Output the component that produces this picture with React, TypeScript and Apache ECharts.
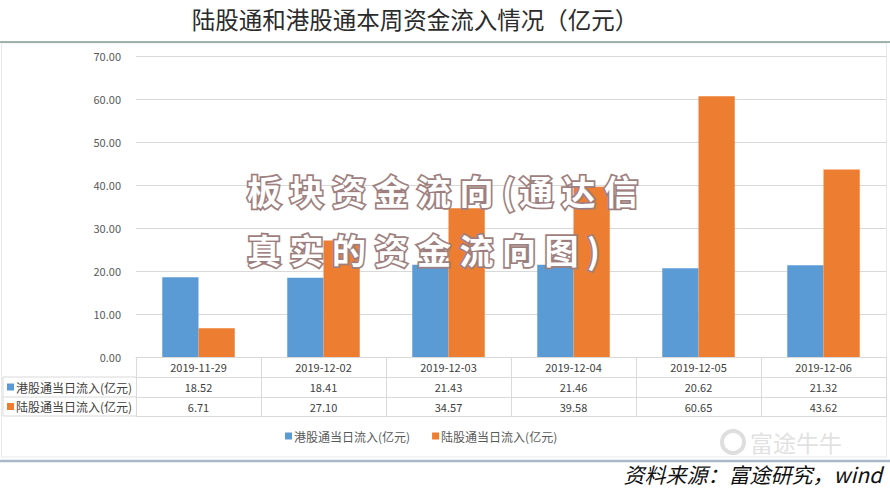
import React, { useEffect, useRef } from "react";
import * as echarts from "echarts";

const titleText = "陆股通和港股通本周资金流入情况（亿元）";
const dates = ["2019-11-29", "2019-12-02", "2019-12-03", "2019-12-04", "2019-12-05", "2019-12-06"];
const hkName = "港股通当日流入(亿元)";
const cnName = "陆股通当日流入(亿元)";
const hkValues = [18.52, 18.41, 21.43, 21.46, 20.62, 21.32];
const cnValues = [6.71, 27.1, 34.57, 39.58, 60.65, 43.62];
const watermarkLines = ["板块资金流向(通达信", "真实的资金流向图)"];
const sourceText = "资料来源：富途研究，wind";
const logoText = "富途牛牛";

const BLUE = "#5B9BD5";
const ORANGE = "#ED7D31";
const FONT = "Noto Sans CJK SC";
const LINE = "#d9d9d9";

function watermarkChars(line: string, x0: number, y: number) {
  const out: any[] = [];
  let x = x0;
  for (const ch of line) {
    const narrow = ch === "(" || ch === ")";
    out.push({
      type: "text",
      x: x,
      y: y,
      z: 100,
      style: {
        text: ch,
        font: `bold 34px "${FONT}"`,
        fill: "#ffffff",
        stroke: "#9e7f80",
        lineWidth: 3.5,
        textVerticalAlign: "middle",
        shadowColor: "rgba(120,90,90,0.45)",
        shadowBlur: 2,
        shadowOffsetX: 1,
        shadowOffsetY: 1,
      },
    });
    x += narrow ? 17 : 42.5;
  }
  return out;
}

export default function App() {
  const ref = useRef<HTMLDivElement>(null);
  useEffect(() => {
    document.body.style.margin = "0";
    const chart = echarts.init(ref.current!, null, { renderer: "svg" });
    const rowLabel = (name: string, color: string, y: number) => [
      { type: "rect", shape: { x: 7, y: y - 3.5, width: 7, height: 7 }, style: { fill: color } },
      {
        type: "text",
        x: 16,
        y: y,
        style: { text: name, font: `12px "${FONT}"`, fill: "#404040", textVerticalAlign: "middle" },
      },
    ];
    chart.setOption({
      animation: false,
      backgroundColor: "#ffffff",
      textStyle: { fontFamily: FONT },
      title: {
        text: titleText,
        left: 410,
        textAlign: "center",
        top: 2,
        textStyle: { fontSize: 23.5, fontWeight: "normal", color: "#2b2b2b", fontFamily: FONT },
      },
      legend: {
        data: [hkName, cnName],
        left: 285,
        top: 430,
        padding: 0,
        icon: "rect",
        itemWidth: 7,
        itemHeight: 7,
        itemGap: 22,
        textStyle: { fontSize: 12, color: "#595959", fontFamily: FONT, padding: [0, 0, 0, -3] },
      },
      grid: { left: 136, right: 4, top: 56, bottom: 131 },
      yAxis: {
        type: "value",
        min: 0,
        max: 70,
        interval: 10,
        axisLine: { show: false },
        axisTick: { show: false },
        axisLabel: {
          margin: 15,
          fontSize: 11,
          color: "#595959",
          formatter: (v: number) => v.toFixed(2),
        },
        splitLine: { lineStyle: { color: LINE } },
      },
      xAxis: [
        {
          type: "category",
          data: dates,
          position: "bottom",
          axisLine: { show: true, lineStyle: { color: LINE } },
          axisTick: { show: true, length: 59, interval: 0, lineStyle: { color: LINE } },
          axisLabel: { margin: 4, fontSize: 11, color: "#404040", interval: 0 },
        },
        {
          type: "category",
          data: hkValues.map((v) => v.toFixed(2)),
          position: "bottom",
          offset: 20,
          axisLine: { show: true, lineStyle: { color: LINE } },
          axisTick: { show: false },
          axisLabel: { margin: 4, fontSize: 11, color: "#404040", interval: 0 },
        },
        {
          type: "category",
          data: cnValues.map((v) => v.toFixed(2)),
          position: "bottom",
          offset: 40,
          axisLine: { show: true, lineStyle: { color: LINE } },
          axisTick: { show: false },
          axisLabel: { margin: 4, fontSize: 11, color: "#404040", interval: 0 },
        },
        {
          type: "category",
          data: dates,
          position: "bottom",
          offset: 59,
          axisLine: { show: true, lineStyle: { color: LINE } },
          axisTick: { show: false },
          axisLabel: { show: false },
        },
      ],
      series: [
        {
          name: hkName,
          type: "bar",
          xAxisIndex: 0,
          data: hkValues,
          itemStyle: { color: BLUE },
          barGap: "0%",
          barCategoryGap: "42%",
        },
        {
          name: cnName,
          type: "bar",
          xAxisIndex: 0,
          data: cnValues,
          itemStyle: { color: ORANGE },
          barGap: "0%",
          barCategoryGap: "42%",
        },
      ],
      graphic: [
        { type: "rect", shape: { x: 1.5, y: 43, width: 885, height: 414 }, style: { fill: "none", stroke: "#e8e8e8", lineWidth: 1 }, silent: true },
        { type: "line", shape: { x1: 0, y1: 42, x2: 890, y2: 42 }, style: { stroke: "#9fb3ad", lineWidth: 2 } },
        { type: "line", shape: { x1: 0, y1: 461, x2: 890, y2: 461 }, style: { stroke: "#a7b9c9", lineWidth: 2.5 } },
        { type: "line", shape: { x1: 3, y1: 377, x2: 136, y2: 377 }, style: { stroke: LINE, lineWidth: 1 } },
        { type: "line", shape: { x1: 3, y1: 397, x2: 136, y2: 397 }, style: { stroke: LINE, lineWidth: 1 } },
        { type: "line", shape: { x1: 3, y1: 416, x2: 136, y2: 416 }, style: { stroke: LINE, lineWidth: 1 } },
        { type: "line", shape: { x1: 3, y1: 377, x2: 3, y2: 416 }, style: { stroke: LINE, lineWidth: 1 } },
        ...rowLabel(hkName, BLUE, 387),
        ...rowLabel(cnName, ORANGE, 406.5),
        {
          type: "circle",
          shape: { cx: 733, cy: 442, r: 11 },
          style: { fill: "none", stroke: "rgba(190,190,190,0.5)", lineWidth: 4 },
        },
        {
          type: "text",
          x: 750,
          y: 442,
          style: {
            text: logoText,
            font: `23px "${FONT}"`,
            lineHeight: 24,
            fill: "rgba(200,200,200,0.55)",
            textVerticalAlign: "middle",
          },
        },
        {
          type: "text",
          x: 882,
          y: 474,
          style: {
            text: sourceText,
            font: `italic 21px "${FONT}"`,
            lineHeight: 22,
            fill: "#111111",
            textAlign: "right",
            textVerticalAlign: "middle",
          },
        },
        ...watermarkChars(watermarkLines[0], 247, 190),
        ...watermarkChars(watermarkLines[1], 247, 249),
      ],
    });
    return () => chart.dispose();
  }, []);
  return <div ref={ref} style={{ width: 890, height: 488 }} />;
}
